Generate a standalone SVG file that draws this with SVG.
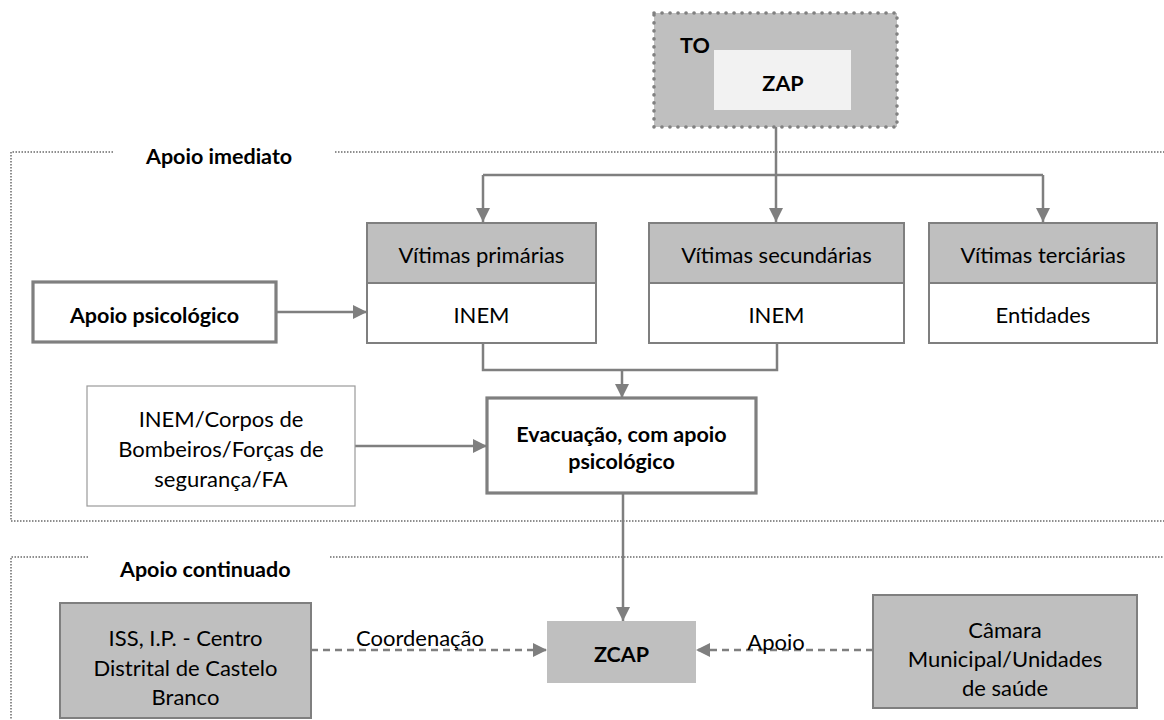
<svg xmlns="http://www.w3.org/2000/svg" width="1164" height="720" viewBox="0 0 1164 720">
  <defs>
    <style>
      text { font-family: Lato, "Liberation Sans", sans-serif; fill: #000; }
      .lbl { font-size: 22px; text-anchor: middle; }
      .bold { font-weight: bold; font-size: 21.5px; }
      .box { fill: #ffffff; stroke: #7f7f7f; stroke-width: 2; }
      .grey { fill: #bfbfbf; stroke: #7f7f7f; stroke-width: 2; }
      .thick { fill: #ffffff; stroke: #7f7f7f; stroke-width: 3.2; }
      .thin { fill: #ffffff; stroke: #9a9a9a; stroke-width: 1.2; }
      .frame { fill: none; stroke: #6a6a6a; stroke-width: 1.5; stroke-dasharray: 1.5 1.5; }
      .conn { fill: none; stroke: #7f7f7f; stroke-width: 2.5; }
      .dash { fill: none; stroke: #7f7f7f; stroke-width: 2.5; stroke-dasharray: 7 5; }
    </style>
    <marker id="arrow" viewBox="0 0 12 12" refX="12" refY="6" markerWidth="14" markerHeight="14" markerUnits="userSpaceOnUse" orient="auto">
      <path d="M0,0 L12,6 L0,12 Z" fill="#7f7f7f"/>
    </marker>
  </defs>

  <!-- section frames -->
  <g id="frames">
    <path class="frame" d="M113,152 H11 V521 H1164"/>
    <path class="frame" d="M335,152 H1164"/>
    <text class="bold" x="146" y="164">Apoio imediato</text>
    <path class="frame" d="M88,557 H11 V720"/>
    <path class="frame" d="M330,557 H1164"/>
    <text class="bold" x="120" y="577">Apoio continuado</text>
  </g>

  <!-- connectors -->
  <g id="connectors">
    <path class="conn" d="M776,127 V175"/>
    <path class="conn" d="M483,175 H1043"/>
    <path class="conn" d="M483,175 V222" marker-end="url(#arrow)"/>
    <path class="conn" d="M776,175 V222" marker-end="url(#arrow)"/>
    <path class="conn" d="M1043,175 V222" marker-end="url(#arrow)"/>
    <path class="conn" d="M276,312 H367" marker-end="url(#arrow)"/>
    <path class="conn" d="M483,343 V370 H777 V343"/>
    <path class="conn" d="M622,370 V398" marker-end="url(#arrow)"/>
    <path class="conn" d="M355,446 H487" marker-end="url(#arrow)"/>
    <path class="conn" d="M623,493 V621" marker-end="url(#arrow)"/>
    <path class="dash" d="M311,650 H547" marker-end="url(#arrow)"/>
    <path class="dash" d="M873,650 H696" marker-end="url(#arrow)"/>
    <text class="lbl" x="420" y="646">Coordenação</text>
    <text class="lbl" x="776" y="650">Apoio</text>
  </g>

  <!-- TO / ZAP -->
  <g id="to">
    <rect x="654" y="13" width="243" height="114" fill="#bfbfbf" stroke="#808080" stroke-width="3.6" stroke-dasharray="0.1 7.9" stroke-linecap="round"/>
    <text class="bold" x="680" y="53">TO</text>
  </g>
  <g id="zap">
    <rect x="714" y="50" width="137" height="60" fill="#f2f2f2"/>
    <text class="lbl bold" x="783" y="91">ZAP</text>
  </g>

  <!-- victims -->
  <g id="vitimas-primarias">
    <rect class="grey" x="367" y="223" width="229" height="60"/>
    <rect class="box" x="367" y="283" width="229" height="60"/>
    <text class="lbl" x="481.5" y="263">Vítimas primárias</text>
    <text class="lbl" x="481.5" y="323">INEM</text>
  </g>
  <g id="vitimas-secundarias">
    <rect class="grey" x="649" y="223" width="255" height="60"/>
    <rect class="box" x="649" y="283" width="255" height="60"/>
    <text class="lbl" x="776.5" y="263">Vítimas secundárias</text>
    <text class="lbl" x="776.5" y="323">INEM</text>
  </g>
  <g id="vitimas-terciarias">
    <rect class="grey" x="929" y="223" width="228" height="60"/>
    <rect class="box" x="929" y="283" width="228" height="60"/>
    <text class="lbl" x="1043" y="263">Vítimas terciárias</text>
    <text class="lbl" x="1043" y="323">Entidades</text>
  </g>

  <g id="apoio-psicologico">
    <rect class="thick" x="33" y="282" width="243" height="60"/>
    <text class="lbl bold" x="154.5" y="323">Apoio psicológico</text>
  </g>

  <g id="forcas">
    <rect class="thin" x="87" y="386" width="268" height="120"/>
    <text class="lbl" x="221" y="427">INEM/Corpos de</text>
    <text class="lbl" x="221" y="457">Bombeiros/Forças de</text>
    <text class="lbl" x="221" y="487">segurança/FA</text>
  </g>

  <g id="evacuacao">
    <rect class="thick" x="487" y="398" width="269" height="95"/>
    <text class="lbl bold" x="621.5" y="442">Evacuação, com apoio</text>
    <text class="lbl bold" x="621.5" y="469">psicológico</text>
  </g>

  <!-- continued support -->
  <g id="iss">
    <rect class="grey" x="60" y="603" width="251" height="115"/>
    <text class="lbl" x="185.5" y="646">ISS, I.P. - Centro</text>
    <text class="lbl" x="185.5" y="676">Distrital de Castelo</text>
    <text class="lbl" x="185.5" y="705">Branco</text>
  </g>

  <g id="zcap">
    <rect x="547" y="621" width="149" height="62" fill="#bfbfbf"/>
    <text class="lbl bold" x="621.5" y="662">ZCAP</text>
  </g>

  <g id="camara">
    <rect class="grey" x="873" y="595" width="264" height="113"/>
    <text class="lbl" x="1005" y="638">Câmara</text>
    <text class="lbl" x="1005" y="667">Municipal/Unidades</text>
    <text class="lbl" x="1005" y="696">de saúde</text>
  </g>
</svg>
